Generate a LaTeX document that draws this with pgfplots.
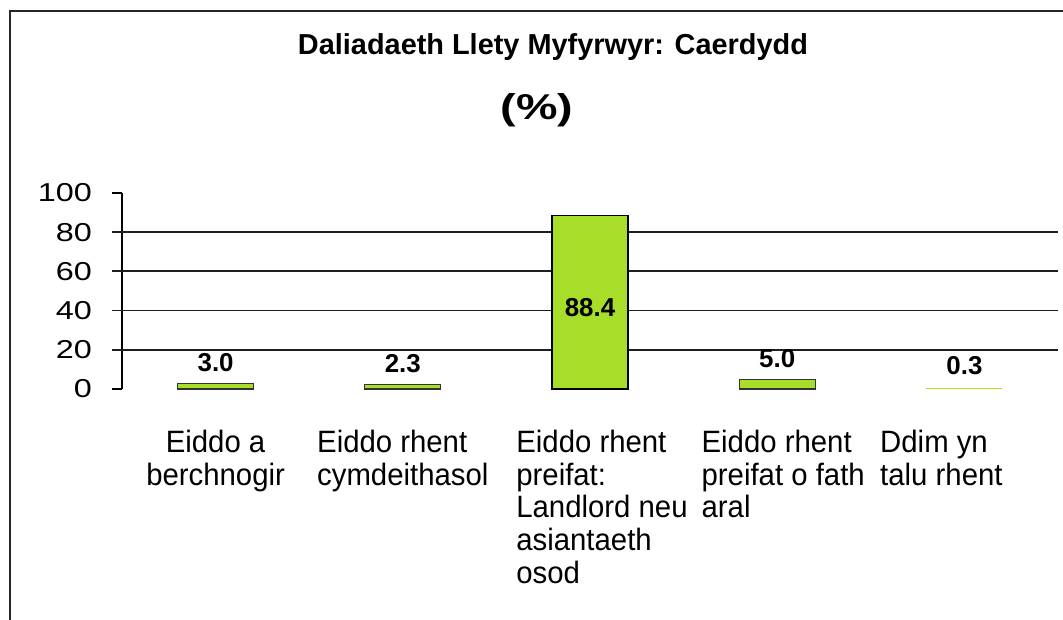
\documentclass[border=0pt]{standalone}
\usepackage{pgfplots}
\pgfplotsset{compat=1.18}
\usepackage{fontspec}
\setmainfont{Liberation Sans}
\newfontfamily\tickfont{Liberation Sans}[FakeStretch=1.25]
\newfontfamily\catfont{Liberation Sans}[FakeStretch=0.95]
\newfontfamily\widefont{Liberation Sans}[FakeStretch=1.3]
\definecolor{barfill}{RGB}{166,222,42}
\definecolor{gridc}{RGB}{30,30,30}

\begin{document}
\begin{tikzpicture}[x=1bp,y=1bp]
\path[use as bounding box] (0,0) rectangle (1063,620);
\draw[line width=2bp, black!85] (10,0) -- (10,609) -- (1063,609);
\node[font=\fontsize{29}{34}\selectfont\bfseries] at (553,573) {Daliadaeth Llety Myfyrwyr: Caerdydd};
\node[font=\widefont\fontsize{36}{40}\selectfont\bfseries] at (537,510) {(\%)};
\begin{axis}[
    at={(122bp,231bp)}, anchor=south west,
    scale only axis, width=936bp, height=196bp,
    xmin=-0.5, xmax=4.5, ymin=0, ymax=100,
    ytick={0,20,40,60,80,100},
    xtick={0,1,2,3,4},
    xticklabels={
        {\begin{tabular}{@{}c@{}}Eiddo a\\berchnogir\end{tabular}},
        {\begin{tabular}{@{}l@{}}Eiddo rhent\\cymdeithasol\end{tabular}},
        {\begin{tabular}{@{\hspace{24bp}}l@{}}Eiddo rhent\\preifat:\\Landlord neu\\asiantaeth\\osod\end{tabular}},
        {\begin{tabular}{@{\hspace{12bp}}l@{}}Eiddo rhent\\preifat o fath\\aral\end{tabular}},
        {\begin{tabular}{@{}l@{\hspace{46bp}}}Ddim yn\\talu rhent\end{tabular}}},
    axis y line*=left, axis x line*=bottom,
    x axis line style={draw=none},
    y axis line style={black, line width=1.5bp, -},
    xtick style={draw=none},
    ytick style={black, line width=1.5bp},
    tick align=outside, major tick length=10bp,
    xticklabel style={font=\catfont\fontsize{31}{33}\selectfont, anchor=north, inner sep=0pt, yshift=-30bp},
    yticklabel style={font=\tickfont\fontsize{26}{30}\selectfont, anchor=east, inner sep=0pt, xshift=-20bp},
    /pgf/number format/assume math mode=true,
    clip=false,
]
\pgfplotsinvokeforeach{20,40,60,80}{
    \draw[gridc, line width=1.8bp] ([xshift=-10bp]axis cs:-0.5,#1) -- (axis cs:4.5,#1);
}
\addplot[ybar, bar width=76bp, bar shift=0pt, fill=barfill, draw=black!80, line width=1.2bp,
    nodes near coords={\pgfmathprintnumber[fixed,fixed zerofill,precision=1]{\pgfplotspointmeta}},
    nodes near coords style={font=\fontsize{26}{30}\selectfont\bfseries, anchor=south, inner sep=0pt, yshift=11bp, text=black}]
    coordinates {(0,3.0) (1,2.3) (3,5.0)};
\addplot[ybar, bar width=76bp, bar shift=0pt, fill=barfill, draw=none,
    nodes near coords={\pgfmathprintnumber[fixed,fixed zerofill,precision=1]{\pgfplotspointmeta}},
    nodes near coords style={font=\fontsize{26}{30}\selectfont\bfseries, anchor=south, inner sep=0pt, yshift=13bp, text=black}]
    coordinates {(4,0.3)};
\addplot[ybar, bar width=76bp, bar shift=0pt, fill=barfill, draw=black, line width=1.3bp,
    nodes near coords={\pgfmathprintnumber[fixed,fixed zerofill,precision=1]{\pgfplotspointmeta}},
    nodes near coords style={font=\fontsize{26}{30}\selectfont\bfseries, anchor=center, inner sep=0pt, yshift=-92bp, text=black}]
    coordinates {(2,88.4)};
\end{axis}
\end{tikzpicture}
\end{document}
